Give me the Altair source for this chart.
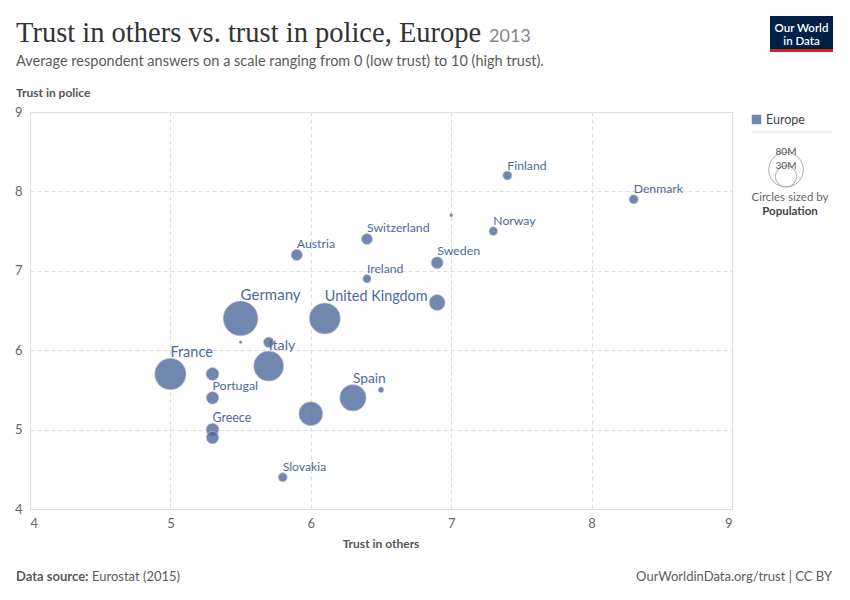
import altair as alt
import pandas as pd

# ---- data ----
countries = ["Finland", "Denmark", "Iceland", "Norway", "Switzerland", "Austria",
             "Sweden", "Ireland", "Netherlands", "United Kingdom", "Germany",
             "Luxembourg", "Bulgaria", "Italy", "France", "Belgium", "Portugal",
             "Greece", "Czech Republic", "Spain", "Slovenia", "Poland", "Slovakia"]
trust_others = [7.4, 8.3, 7.0, 7.3, 6.4, 5.9, 6.9, 6.4, 6.9, 6.1, 5.5,
                5.5, 5.7, 5.7, 5.0, 5.3, 5.3, 5.3, 5.3, 6.3, 6.5, 6.0, 5.8]
trust_police = [8.2, 7.9, 7.7, 7.5, 7.4, 7.2, 7.1, 6.9, 6.6, 6.4, 6.4,
                6.1, 6.1, 5.8, 5.7, 5.7, 5.4, 5.0, 4.9, 5.4, 5.5, 5.2, 4.4]
population_m = [5.4, 5.6, 0.8, 5.1, 8.1, 8.5, 9.6, 4.6, 16.8, 64.1, 80.6,
                0.55, 7.3, 60.2, 65.9, 11.2, 10.5, 11.0, 10.5, 46.6, 2.06, 38.0, 5.4]
labelled = ["Finland", "Denmark", "Norway", "Switzerland", "Austria", "Sweden",
            "Ireland", "United Kingdom", "Germany", "Italy", "France", "Portugal",
            "Greece", "Spain", "Slovakia"]
axis_ticks = [4, 5, 6, 7, 8, 9]
legend_sizes = [80, 30]
legend_size_labels = ["80M", "30M"]

df = pd.DataFrame({"entity": countries, "others": trust_others,
                   "police": trust_police, "pop": population_m})
df["label"] = [c if c in labelled else "" for c in countries]

BLUE = "#4C6A9C"
TEXT_GRAY = "#5b5b5b"
FONT = "Lato"
W, H = 702, 397
Y_PPU = H / 5.0   # pixels per unit on the y axis
SIZE_K = 15.0     # symbol size units per million people (radius = sqrt(size)/2)
size_scale = alt.Scale(type="linear", domain=[0, 100], range=[0, 100 * SIZE_K])

axis_kw = dict(values=axis_ticks, title=None, grid=True, domain=False,
               ticks=False, labelPadding=8, labelFontSize=13, format="d",
               labelColor="#666", labelFont=FONT, gridDash=[4, 3],
               gridColor="#dddddd")
xenc = alt.X("others:Q", scale=alt.Scale(domain=[4, 9], nice=False),
             axis=alt.Axis(**axis_kw))
yenc = alt.Y("police:Q", scale=alt.Scale(domain=[4, 9], nice=False),
             axis=alt.Axis(**axis_kw))

base = alt.Chart(df)

points = base.mark_circle(fill=BLUE, fillOpacity=0.8, stroke="#c8c8c8",
                          strokeWidth=0.6, opacity=1).encode(
    x=xenc, y=yenc,
    size=alt.Size("pop:Q", scale=size_scale, legend=None),
    order=alt.Order("pop:Q", sort="descending"),
)

labels = base.transform_filter("datum.label != ''").transform_calculate(
    r=f"sqrt(datum.pop * {SIZE_K}) / 2",
    ly=f"datum.police + (datum.r + 1.5) / {Y_PPU}",
    fs="min(12 + 3 * datum.pop / 80, 15)",
).mark_text(align="left", baseline="alphabetic", color=BLUE, font=FONT).encode(
    x=alt.X("others:Q"), y=alt.Y("ly:Q"),
    size=alt.Size("fs:Q", scale=None, legend=None),
    text="label:N",
)


def txt(s, x, y, size=12, color=TEXT_GRAY, weight="normal", align="left",
        font=FONT, baseline="alphabetic"):
    return alt.Chart(pd.DataFrame({"t": [s]})).mark_text(
        align=align, baseline=baseline, fontSize=size, color=color,
        fontWeight=weight, font=font).encode(
        text="t:N", x=alt.value(x), y=alt.value(y))


title = txt("Trust in others vs. trust in police, Europe", -14, -70, size=28.5,
            color="#333333", font="Liberation Serif")
year = txt("2013", 459, -70, size=18, color="#858585")
subtitle = txt("Average respondent answers on a scale ranging from 0 (low trust) to 10 (high trust).",
               -14, -46, size=14.5, color=TEXT_GRAY)
ytitle = txt("Trust in police", -14, -15, size=12, color="#555555", weight="bold")
xtitle = txt("Trust in others", 351, 436, size=12, color="#555555", weight="bold",
             align="center")
src_b = txt("Data source:", -14, 469, size=13, color=TEXT_GRAY, weight="bold")
src = txt("Eurostat (2015)", 62, 469, size=13, color=TEXT_GRAY)
src_r = txt("OurWorldinData.org/trust | CC BY", 802, 469, size=13,
            color=TEXT_GRAY, align="right")

# logo
logo_bg = alt.Chart(pd.DataFrame({"a": [0]})).mark_rect(color="#002147").encode(
    x=alt.value(740), x2=alt.value(803), y=alt.value(-96), y2=alt.value(-61))
logo_red = alt.Chart(pd.DataFrame({"a": [0]})).mark_rect(color="#CE261E").encode(
    x=alt.value(740), x2=alt.value(803), y=alt.value(-63), y2=alt.value(-60))
logo_t1 = txt("Our World", 771.5, -80.5, size=11.5, color="white", weight=600,
              align="center")
logo_t2 = txt("in Data", 771.5, -67.5, size=11.5, color="white", weight=600,
              align="center")

# colour legend
leg_sq = alt.Chart(pd.DataFrame({"a": [0]})).mark_square(
    color=BLUE, opacity=0.8, size=90).encode(x=alt.value(726.5), y=alt.value(7.5))
leg_txt = txt("Europe", 736, 12, size=12.5, color="#444444")
leg_line = alt.Chart(pd.DataFrame({"a": [0]})).mark_rule(
    color="#dddddd", strokeWidth=1).encode(
    x=alt.value(722), x2=alt.value(802), y=alt.value(20))

# size legend
sl = pd.DataFrame({"pop": legend_sizes, "lab": legend_size_labels})
leg_circ = alt.Chart(sl).transform_calculate(
    cy=f"75 - sqrt(datum.pop * {SIZE_K}) / 2",
).mark_circle(fill=None, filled=False, stroke="#aaaaaa", strokeWidth=1,
              opacity=1).encode(
    x=alt.value(756), y=alt.Y("cy:Q", scale=None),
    size=alt.Size("pop:Q", scale=size_scale, legend=None),
)
leg_lab = alt.Chart(sl).transform_calculate(
    ty=f"75 - sqrt(datum.pop * {SIZE_K})",
).mark_text(align="center", baseline="middle", fontSize=10, color="#555555",
            font=FONT).encode(
    x=alt.value(756), y=alt.Y("ty:Q", scale=None), text="lab:N")
leg_c1 = txt("Circles sized by", 760, 89, size=11.5, color="#666666",
             align="center")
leg_c2 = txt("Population", 760, 103, size=11.5, color="#444444", weight="bold",
             align="center")

chart = alt.layer(
    points, labels, title, year, subtitle, ytitle, xtitle, src_b, src, src_r,
    logo_bg, logo_red, logo_t1, logo_t2, leg_sq, leg_txt, leg_line,
    leg_circ, leg_lab, leg_c1, leg_c2,
).resolve_scale(size="independent").properties(
    width=W, height=H,
    autosize=alt.AutoSizeParams(type="none"),
    padding={"left": 22, "top": 104, "right": 108, "bottom": 80},
).configure_view(stroke=None).configure(background="white")

chart.save("out.html", embed_options={"renderer": "svg", "actions": False})
